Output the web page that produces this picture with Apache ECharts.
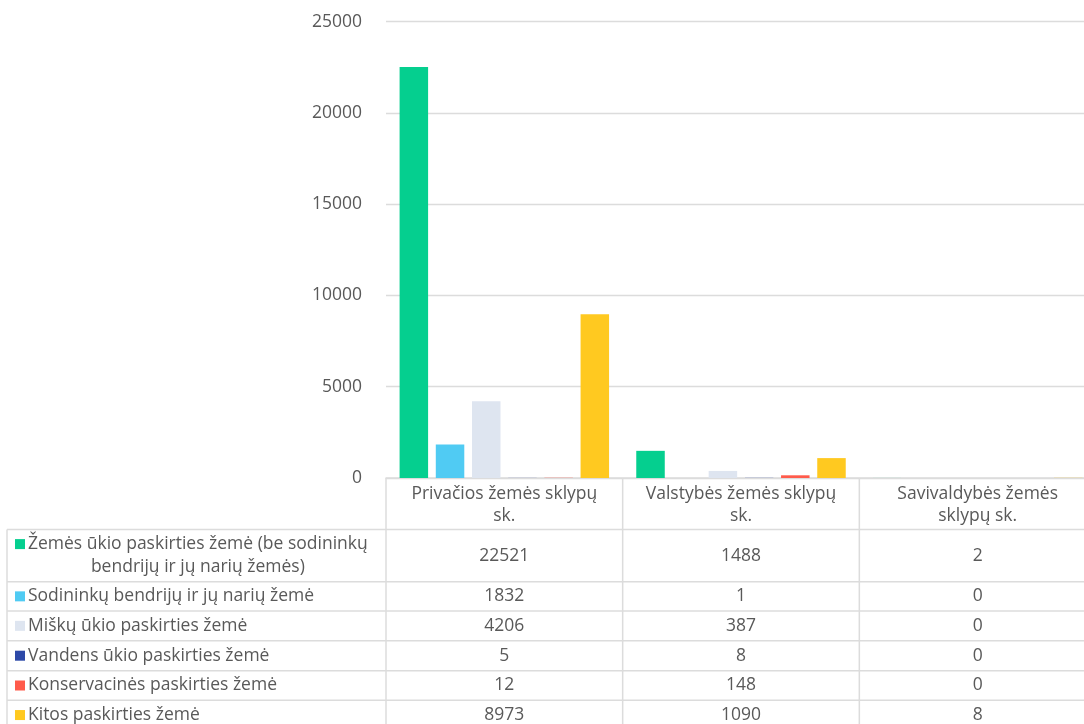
<!DOCTYPE html>
<html>
<head>
<meta charset="utf-8">
<script src="https://cdn.jsdelivr.net/npm/echarts@6/dist/echarts.min.js"></script>
<style>
html,body{margin:0;padding:0;background:#fff;overflow:hidden;width:1084px;height:724px;}
#c{width:1096px;height:724px;}
</style>
</head>
<body>
<div id="c"></div>
<script>
const categories = ['Privačios žemės sklypų sk.', 'Valstybės žemės sklypų sk.', 'Savivaldybės žemės sklypų sk.'];
const seriesNames = [
  'Žemės ūkio paskirties žemė (be sodininkų bendrijų ir jų narių žemės)',
  'Sodininkų bendrijų ir jų narių žemė',
  'Miškų ūkio paskirties žemė',
  'Vandens ūkio paskirties žemė',
  'Konservacinės paskirties žemė',
  'Kitos paskirties žemė'
];
const zemesUkio = [22521, 1488, 2];
const sodininku = [1832, 1, 0];
const misku = [4206, 387, 0];
const vandens = [5, 8, 0];
const konservacines = [12, 148, 0];
const kitos = [8973, 1090, 8];
const yTicks = [0, 5000, 10000, 15000, 20000, 25000];

const seriesValues = [zemesUkio, sodininku, misku, vandens, konservacines, kitos];
const colors = ['#05CF8F', '#50CBF3', '#DEE5F0', '#2D49A8', '#FF5B4B', '#FFC920'];

const FONT = '"Open Sans", "Noto Sans", sans-serif';
const TXT = '#595959';
const LINE = '#DCDCDC';
const FS = 17.5;

const mctx = document.createElement('canvas').getContext('2d');
mctx.font = FS + 'px ' + FONT;
function wrapLines(text, maxW) {
  const words = text.split(' ');
  const lines = [];
  let cur = '';
  words.forEach(w => {
    const t = cur ? cur + ' ' + w : w;
    if (cur && mctx.measureText(t).width > maxW) { lines.push(cur); cur = w; }
    else cur = t;
  });
  if (cur) lines.push(cur);
  return lines;
}

const chart = echarts.init(document.getElementById('c'), null, {renderer: 'canvas'});

const gridLeft = 386, gridTop = 21.7, gridBottomY = 478;

const option = {
  animation: false,
  backgroundColor: '#fff',
  textStyle: {fontFamily: FONT},
  grid: {left: gridLeft, top: gridTop, right: 0, bottom: 724 - gridBottomY, containLabel: false},
  xAxis: {
    type: 'category',
    data: categories,
    axisLine: {show: true, lineStyle: {color: LINE, width: 1.5}},
    axisTick: {show: false},
    axisLabel: {
      interval: 0,
      color: TXT, fontFamily: FONT, fontSize: FS, lineHeight: 22, margin: 5,
      formatter: v => wrapLines(v, 200).join('\n')
    }
  },
  yAxis: {
    type: 'value',
    min: yTicks[0], max: yTicks[yTicks.length - 1], interval: yTicks[1] - yTicks[0],
    axisLine: {show: false},
    axisTick: {show: false},
    axisLabel: {color: TXT, fontFamily: FONT, fontSize: FS, margin: 24, formatter: v => String(v)},
    splitLine: {lineStyle: {color: LINE, width: 1.3}}
  },
  series: seriesNames.map((n, i) => ({
    name: n,
    type: 'bar',
    data: seriesValues[i],
    barWidth: 28.5,
    barGap: '27%',
    itemStyle: {color: colors[i]}
  }))
};
chart.setOption(option);

function buildTable() {
  const g = [];
  const rowTops = [529.5, 581.7, 611, 640.7, 670.7, 700.3];
  const rowBottoms = [581.7, 611, 640.7, 670.7, 700.3, 729.8];
  const tableLeft = 7, right = 1096;
  const colCenters = categories.map(c => chart.convertToPixel({xAxisIndex: 0}, c));
  const half = (colCenters[1] - colCenters[0]) / 2;
  const colBounds = [gridLeft];
  colCenters.forEach(c => colBounds.push(c + half));

  rowTops.forEach(y => {
    g.push({type: 'line', shape: {x1: tableLeft, y1: y, x2: right, y2: y}, style: {stroke: LINE, lineWidth: 1.5}, silent: true});
  });
  g.push({type: 'line', shape: {x1: tableLeft, y1: rowTops[0], x2: tableLeft, y2: 724}, style: {stroke: LINE, lineWidth: 1.5}});
  colBounds.forEach(x => {
    g.push({type: 'line', shape: {x1: x, y1: gridBottomY, x2: x, y2: 724}, style: {stroke: LINE, lineWidth: 1.5}});
  });

  const labelX = 28, labelW = 348;
  seriesNames.forEach((name, i) => {
    const cy = (rowTops[i] + rowBottoms[i]) / 2;
    const lines = wrapLines(name, labelW);
    const wraps = lines.length > 1;
    const lineH = 23;
    const keyY = cy - (lines.length - 1) * lineH / 2;
    let cx = labelX;
    if (wraps) {
      const firstW = mctx.measureText(lines[0]).width;
      cx = labelX + firstW / 2;
    }
    g.push({type: 'rect', shape: {x: 15, y: keyY - 5, width: 10, height: 10}, style: {fill: colors[i]}});
    g.push({
      type: 'text',
      x: cx,
      y: cy,
      style: {
        text: lines.join('\n'), fill: TXT, font: FS + 'px ' + FONT, lineHeight: lineH,
        align: wraps ? 'center' : 'left', verticalAlign: 'middle'
      }
    });
    seriesValues[i].forEach((v, j) => {
      g.push({
        type: 'text', x: colCenters[j], y: cy,
        style: {text: String(v), fill: TXT, font: FS + 'px ' + FONT, align: 'center', verticalAlign: 'middle'}
      });
    });
  });
  chart.setOption({graphic: {elements: g}});
}
buildTable();
</script>
</body>
</html>
